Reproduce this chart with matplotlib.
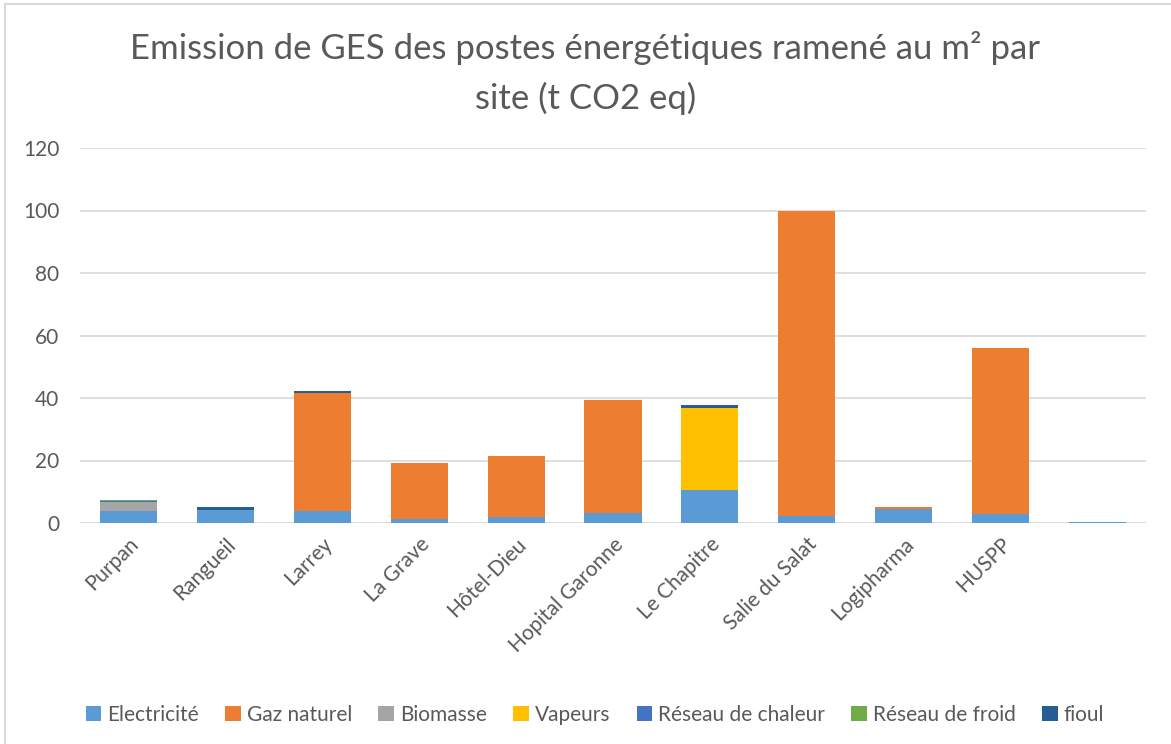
import matplotlib
matplotlib.use("Agg")
from matplotlib import pyplot as plt
from matplotlib.patches import Rectangle
import numpy as np

plt.rcParams['font.family'] = ['Lato', 'DejaVu Sans']

sites = ["Purpan", "Rangueil", "Larrey", "La Grave", "Hôtel-Dieu", "Hopital Garonne",
         "Le Chapitre", "Salie du Salat", "Logipharma", "HUSPP", ""]

electricite = [3.8, 4.2, 3.7, 1.3, 2.0, 3.2, 10.6, 2.2, 4.5, 3.0, 0.4]
gaz_naturel = [0.0, 0.0, 37.9, 18.0, 19.3, 36.3, 0.0, 97.6, 0.6, 53.0, 0.0]
biomasse = [2.9, 0, 0, 0, 0, 0, 0, 0, 0, 0, 0]
vapeurs = [0, 0, 0, 0, 0, 0, 26.3, 0, 0, 0, 0]
reseau_chaleur = [0.2, 0, 0, 0, 0, 0, 0, 0, 0, 0, 0]
reseau_froid = [0.6, 0, 0, 0, 0, 0, 0, 0, 0, 0, 0]
fioul = [0.0, 0.9, 0.6, 0, 0, 0, 0.8, 0, 0, 0, 0]

series = [
    ("Electricité", electricite, "#5b9bd5"),
    ("Gaz naturel", gaz_naturel, "#ed7d31"),
    ("Biomasse", biomasse, "#a5a5a5"),
    ("Vapeurs", vapeurs, "#ffc000"),
    ("Réseau de chaleur", reseau_chaleur, "#4472c4"),
    ("Réseau de froid", reseau_froid, "#70ad47"),
    ("fioul", fioul, "#255e91"),
]

fig = plt.figure(figsize=(11.71, 7.44), dpi=100)
ax = fig.add_axes([80 / 1171, 1 - 523 / 744, 1066 / 1171, 375 / 744])

x = np.arange(len(sites))
bottom = np.zeros(len(sites))
for nom, vals, col in series:
    vals = np.array(vals, dtype=float)
    ax.bar(x, vals, bottom=bottom, width=0.59, color=col, label=nom, zorder=3)
    bottom += vals

ax.set_xlim(-0.5, len(sites) - 0.5)
ax.set_ylim(0, 120)
ax.set_yticks(range(0, 121, 20))
ax.yaxis.grid(True, color="#d9d9d9", linewidth=1.2, zorder=0)
for s in ax.spines.values():
    s.set_visible(False)
ax.axhline(0, color="#d9d9d9", linewidth=1.2, zorder=2)
ax.tick_params(axis="both", length=0, labelsize=15, labelcolor="#595959")
ax.tick_params(axis="y", pad=15)
ax.tick_params(axis="x", pad=8)
ax.set_xticks(x)
ax.set_xticklabels(sites, rotation=45, ha="right", rotation_mode="anchor")

fig.text(0.5, 1 - 48 / 744, "Emission de GES des postes énergétiques ramené au m² par",
         ha="center", va="center", fontsize=25, color="#595959")
fig.text(0.5, 1 - 98 / 744, "site (t CO2 eq)",
         ha="center", va="center", fontsize=25, color="#595959")

ax.legend(loc="center", bbox_to_anchor=((595 - 80) / 1066, (715 - 523) / -375.0), ncol=7,
          frameon=False, fontsize=15, labelcolor="#595959", handlelength=0.75,
          handleheight=0.75, handletextpad=0.3, columnspacing=1.25)

fig.add_artist(Rectangle((5 / 1171, -0.1), 1.2, 1 - 4 / 744 + 0.1, transform=fig.transFigure,
                         fill=False, edgecolor="#d9d9d9", linewidth=1.5))

fig.savefig("out.png", dpi=100)
